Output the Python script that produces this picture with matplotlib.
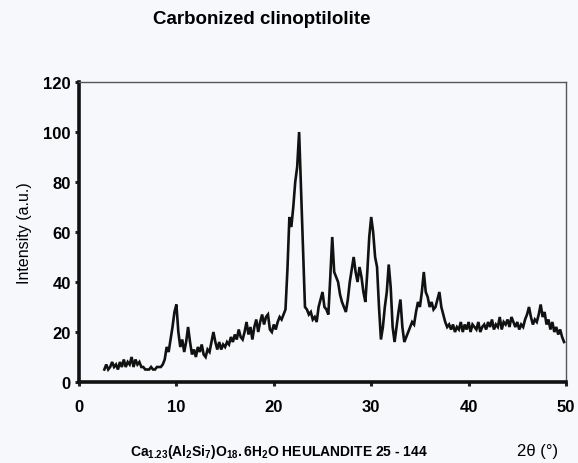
import matplotlib
matplotlib.use("Agg")
import matplotlib.pyplot as plt

plt.rcParams['font.family'] = ['Liberation Sans', 'DejaVu Sans']
plt.rcParams['mathtext.fontset'] = 'custom'
plt.rcParams['mathtext.rm'] = 'Liberation Sans'
plt.rcParams['mathtext.bf'] = 'Liberation Sans:bold'
plt.rcParams['mathtext.it'] = 'Liberation Sans:italic'

title = "Carbonized clinoptilolite"
y_label = "Intensity (a.u.)"
x_formula = r"$\mathbf{Ca_{1.23}(Al_{2}Si_{7})O_{18}.6H_{2}O}$ HEULANDITE 25 - 144"
x_unit = "2θ (°)"
x_ticks = [0, 10, 20, 30, 40, 50]
y_ticks = [0, 20, 40, 60, 80, 100, 120]

two_theta = [
    2.6, 2.8, 3.0, 3.2, 3.4, 3.6, 3.8, 4.0, 4.2, 4.4,
    4.6, 4.8, 5.0, 5.2, 5.4, 5.6, 5.8, 6.0, 6.2, 6.4,
    6.6, 6.8, 7.0, 7.2, 7.4, 7.6, 7.8, 8.0, 8.2, 8.4,
    8.6, 8.8, 9.0, 9.2, 9.4, 9.6, 9.8, 10.0, 10.2, 10.4,
    10.6, 10.8, 11.0, 11.2, 11.4, 11.6, 11.8, 12.0, 12.2, 12.4,
    12.6, 12.8, 13.0, 13.2, 13.4, 13.6, 13.8, 14.0, 14.2, 14.4,
    14.6, 14.8, 15.0, 15.2, 15.4, 15.6, 15.8, 16.0, 16.2, 16.4,
    16.6, 16.8, 17.0, 17.2, 17.4, 17.6, 17.8, 18.0, 18.2, 18.4,
    18.6, 18.8, 19.0, 19.2, 19.4, 19.6, 19.8, 20.0, 20.2, 20.4,
    20.6, 20.8, 21.0, 21.2, 21.4, 21.6, 21.8, 22.0, 22.2, 22.4,
    22.6, 22.8, 23.0, 23.2, 23.4, 23.6, 23.8, 24.0, 24.2, 24.4,
    24.6, 24.8, 25.0, 25.2, 25.4, 25.6, 25.8, 26.0, 26.2, 26.4,
    26.6, 26.8, 27.0, 27.2, 27.4, 27.6, 27.8, 28.0, 28.2, 28.4,
    28.6, 28.8, 29.0, 29.2, 29.4, 29.6, 29.8, 30.0, 30.2, 30.4,
    30.6, 30.8, 31.0, 31.2, 31.4, 31.6, 31.8, 32.0, 32.2, 32.4,
    32.6, 32.8, 33.0, 33.2, 33.4, 33.6, 33.8, 34.0, 34.2, 34.4,
    34.6, 34.8, 35.0, 35.2, 35.4, 35.6, 35.8, 36.0, 36.2, 36.4,
    36.6, 36.8, 37.0, 37.2, 37.4, 37.6, 37.8, 38.0, 38.2, 38.4,
    38.6, 38.8, 39.0, 39.2, 39.4, 39.6, 39.8, 40.0, 40.2, 40.4,
    40.6, 40.8, 41.0, 41.2, 41.4, 41.6, 41.8, 42.0, 42.2, 42.4,
    42.6, 42.8, 43.0, 43.2, 43.4, 43.6, 43.8, 44.0, 44.2, 44.4,
    44.6, 44.8, 45.0, 45.2, 45.4, 45.6, 45.8, 46.0, 46.2, 46.4,
    46.6, 46.8, 47.0, 47.2, 47.4, 47.6, 47.8, 48.0, 48.2, 48.4,
    48.6, 48.8, 49.0, 49.2, 49.4, 49.6, 49.8,
]

intensity = [
    5, 7, 5, 6, 8, 6, 7, 5, 8, 6,
    9, 6, 8, 7, 10, 6, 9, 7, 8, 6,
    6, 5, 5, 5, 6, 5, 5, 6, 6, 6,
    7, 9, 14, 12, 17, 22, 28, 31, 20, 14,
    17, 12, 16, 22, 16, 11, 13, 10, 14, 12,
    15, 11, 10, 13, 12, 16, 20, 16, 13, 16,
    13, 15, 14, 16, 15, 18, 16, 19, 17, 21,
    18, 17, 20, 24, 19, 22, 17, 22, 25, 20,
    24, 27, 23, 26, 27, 21, 20, 23, 21, 24,
    26, 25, 27, 29, 45, 66, 62, 70, 80, 86,
    100, 77, 55, 30, 29, 27, 28, 25, 26, 24,
    30, 33, 36, 30, 29, 27, 42, 58, 44, 42,
    40, 35, 32, 30, 28, 33, 40, 45, 50, 44,
    40, 46, 42, 36, 32, 44, 58, 66, 60, 50,
    46, 30, 17, 22, 30, 36, 47, 38, 22, 16,
    22, 28, 33, 22, 16, 18, 20, 22, 24, 23,
    28, 32, 30, 36, 44, 36, 34, 30, 32, 29,
    30, 33, 36, 30, 27, 24, 22, 23, 21, 23,
    20, 22, 21, 24, 20, 23, 21, 24, 20, 23,
    22, 21, 24, 20, 22, 23, 21, 24, 22, 25,
    21, 23, 22, 26, 21, 24, 23, 25, 22, 26,
    24, 22, 24, 21, 23, 22, 25, 27, 30, 26,
    23, 25, 24, 27, 31, 26, 28, 23, 25, 21,
    24, 20, 22, 19, 21, 18, 16,
]

bg = '#f7f8fb'
fig = plt.figure(figsize=(5.78, 4.64), dpi=100, facecolor=bg)
ax = fig.add_axes([79/578, 81/464, 487/578, 300/464])
ax.set_facecolor(bg)

ax.plot(two_theta, intensity, color='#111111', linewidth=1.9, solid_joinstyle='miter')

ax.set_xlim(0, 50)
ax.set_ylim(0, 120)
ax.set_xticks(x_ticks)
ax.set_yticks(y_ticks)
ax.set_xticklabels([str(v) for v in x_ticks], fontweight='bold', fontsize=12)
ax.set_yticklabels([str(v) for v in y_ticks], fontweight='bold', fontsize=12)
ax.tick_params(axis='both', direction='out', length=3, width=2.2, color='#222222')
ax.tick_params(axis='y', pad=3)
ax.tick_params(axis='x', pad=9)

for s in ['left', 'bottom']:
    ax.spines[s].set_linewidth(2.6)
    ax.spines[s].set_color('#111111')
for s in ['top', 'right']:
    ax.spines[s].set_linewidth(1.0)
    ax.spines[s].set_color('#555555')

ax.set_ylabel(y_label, fontsize=11.5, labelpad=8)

fig.text(262/578, 1 - 20/464, title, fontsize=13.5, fontweight='bold', ha='center', va='center')
fig.text(130/578, 1 - 452/464, x_formula, fontsize=10, fontweight='bold', ha='left', va='center')
fig.text(558/578, 1 - 452/464, x_unit, fontsize=12, ha='right', va='center')

fig.savefig('out.png', dpi=100, facecolor=bg)
